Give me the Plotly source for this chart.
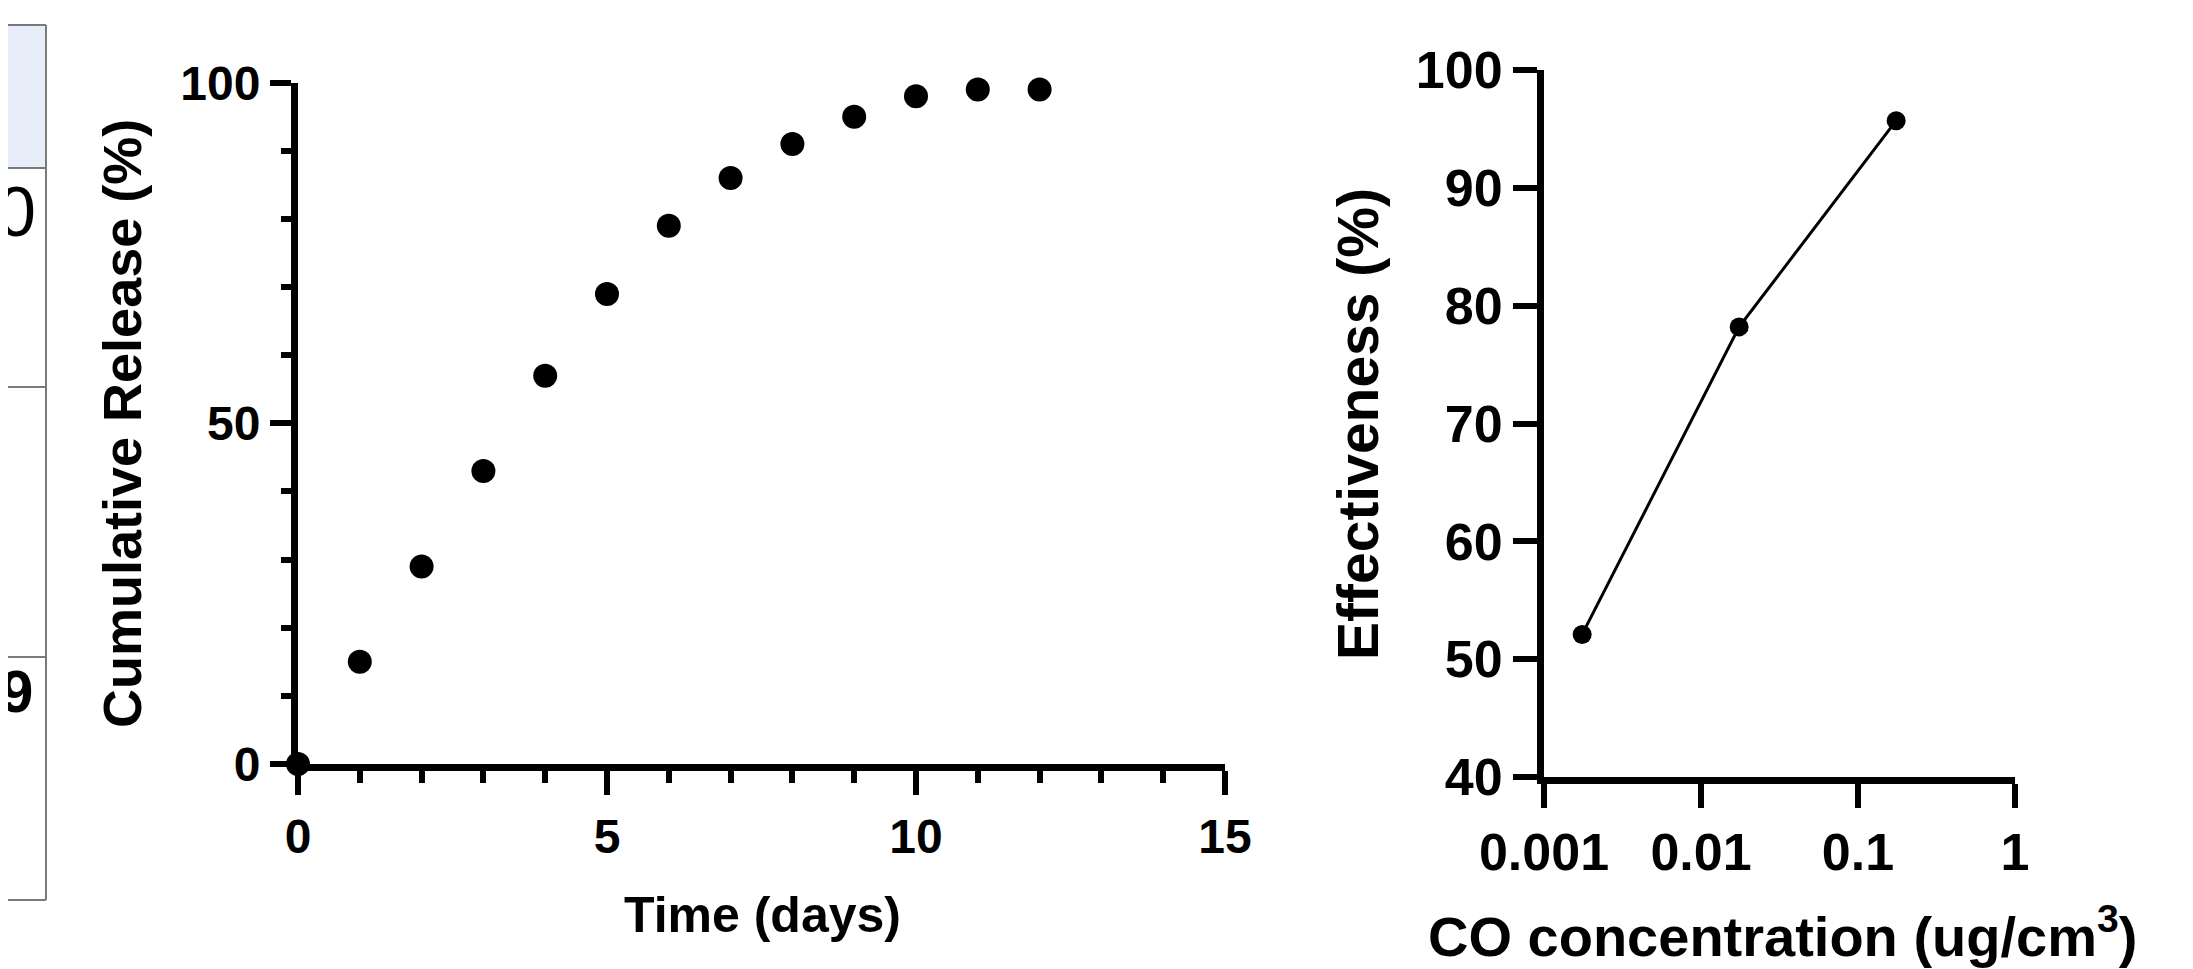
import plotly.graph_objects as go

W, H = 2193, 969
OFF = 8  # page body margin; figure is shrunk so it fits the window exactly

# ---- data ----
days = [0, 1, 2, 3, 4, 5, 6, 7, 8, 9, 10, 11, 12]
cumulative_release = [0, 15, 29, 43, 57, 69, 79, 86, 91, 95, 98, 99, 99]

co_concentration = [0.00175, 0.0175, 0.175]
effectiveness = [52.1, 78.2, 95.7]

co_tickvals = [0.001, 0.01, 0.1, 1]
co_ticktext = ["0.001", "0.01", "0.1", "1"]

table_cells = ["0", "9"]

FONT = "Liberation Sans, Arial, Helvetica, sans-serif"

FW, FH = W - OFF, H - OFF


def fx(p):
    return (p - OFF) / FW


def fy(p):
    return 1 - (p - OFF) / FH


def tfont(size):
    return dict(family=FONT, size=size, color="black", weight="bold")


axis_common = dict(
    showline=True, linewidth=7, linecolor="black", mirror=False,
    ticks="outside", tickwidth=6, tickcolor="black",
    showgrid=False, zeroline=False, fixedrange=True, automargin=False,
)

fig = go.Figure()

fig.add_trace(go.Scatter(
    x=days, y=cumulative_release, mode="markers",
    marker=dict(size=24, color="black"),
    cliponaxis=False, xaxis="x", yaxis="y", showlegend=False,
))

fig.add_trace(go.Scatter(
    x=co_concentration, y=effectiveness, mode="lines+markers",
    line=dict(color="black", width=3),
    marker=dict(size=19, color="black"),
    cliponaxis=False, xaxis="x2", yaxis="y2", showlegend=False,
))

shapes = []
border = dict(color="#7a7a7a", width=2)
# partial table at the left edge
shapes.append(dict(type="rect", xref="paper", yref="paper",
                   x0=fx(-5), x1=fx(46), y0=fy(168), y1=fy(25),
                   fillcolor="#E8EEF9", line=dict(width=0), layer="below"))
for yy in [25, 168, 387, 657, 900]:
    shapes.append(dict(type="line", xref="paper", yref="paper",
                       x0=fx(-5), x1=fx(46), y0=fy(yy), y1=fy(yy), line=border))
shapes.append(dict(type="line", xref="paper", yref="paper",
                   x0=fx(46), x1=fx(46), y0=fy(25), y1=fy(900), line=border))

annotations = [
    dict(text=table_cells[0], xref="paper", yref="paper", x=fx(16), y=fy(212),
         xanchor="center", yanchor="middle", showarrow=False,
         font=dict(family=FONT, size=70, color="black")),
    dict(text=table_cells[1], xref="paper", yref="paper", x=fx(16), y=fy(691),
         xanchor="center", yanchor="middle", showarrow=False,
         font=dict(family=FONT, size=60, color="black", weight="bold")),
    # axis titles
    dict(text="Cumulative Release (%)", xref="paper", yref="paper",
         x=fx(122), y=fy(424), xanchor="center", yanchor="middle",
         textangle=-90, showarrow=False, font=tfont(54)),
    dict(text="Time (days)", xref="paper", yref="paper",
         x=fx(762), y=fy(915), xanchor="center", yanchor="middle",
         showarrow=False, font=tfont(50)),
    dict(text="Effectiveness (%)", xref="paper", yref="paper",
         x=fx(1358), y=fy(424), xanchor="center", yanchor="middle",
         textangle=-90, showarrow=False, font=tfont(57)),
    dict(text="CO concentration (ug/cm<sup>3</sup>)", xref="paper", yref="paper",
         x=fx(1782), y=fy(932), xanchor="center", yanchor="middle",
         showarrow=False, font=tfont(56)),
]

fig.update_layout(
    width=FW, height=FH,
    margin=dict(l=0, r=0, t=0, b=0, autoexpand=False),
    paper_bgcolor="white", plot_bgcolor="white",
    showlegend=False,
    xaxis=dict(domain=[fx(298), fx(1225)], range=[0, 15], anchor="y",
               tick0=0, dtick=5, ticklen=24, tickfont=tfont(48),
               minor=dict(dtick=1, ticklen=12, tickwidth=6, tickcolor="black",
                          ticks="outside", showgrid=False),
               **axis_common),
    yaxis=dict(domain=[fy(764), fy(82.7)], range=[0, 100], anchor="x",
               tick0=0, dtick=50, ticklen=21, tickfont=tfont(48),
               minor=dict(dtick=10, ticklen=10, tickwidth=6, tickcolor="black",
                          ticks="outside", showgrid=False),
               **axis_common),
    xaxis2=dict(domain=[fx(1544), fx(2015)], type="log", range=[-3, 0],
                anchor="y2", tickvals=co_tickvals, ticktext=co_ticktext,
                ticklen=24, tickfont=tfont(52), **axis_common),
    yaxis2=dict(domain=[fy(777), fy(70)], range=[40, 100], anchor="x2",
                tick0=40, dtick=10, ticklen=24, tickfont=tfont(52),
                **axis_common),
    shapes=shapes,
    annotations=annotations,
)

fig.write_html("out.html")
